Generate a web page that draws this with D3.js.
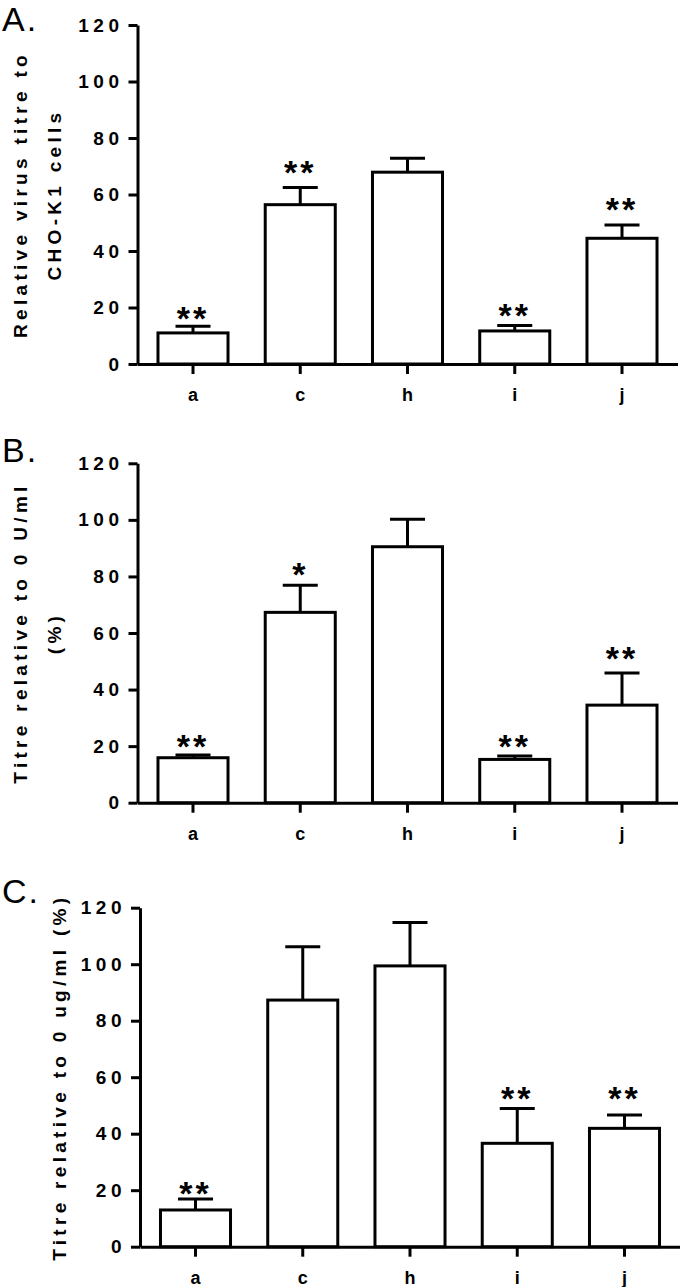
<!DOCTYPE html>
<html>
<head>
<meta charset="utf-8">
<script src="https://cdn.jsdelivr.net/npm/d3@7"></script>
<style>
  html, body { margin: 0; padding: 0; background: #fff; }
  svg { display: block; }
  text { font-family: "Liberation Sans", Arial, sans-serif; fill: #000; }
</style>
</head>
<body>
<svg id="chart" width="680" height="1287"></svg>
<script>
// ---------------- data ----------------
const categories = ["a", "c", "h", "i", "j"];
const yTickValues = [0, 20, 40, 60, 80, 100, 120];

const meanA = [11.0, 56.4, 67.9, 11.7, 44.5];
const semA  = [2.4, 6.1, 4.9, 1.9, 4.7];
const starA = ["**", "**", "", "**", "**"];
const starPosA = [19.1, 70.8, null, 20.0, 57.5];

const meanB = [15.9, 67.3, 90.5, 15.3, 34.5];
const semB  = [1.0, 9.6, 9.7, 1.2, 11.4];
const starB = ["**", "*", "", "**", "**"];
const starPosB = [22.9, 83.5, null, 22.9, 54.0];

const meanC = [13.0, 87.3, 99.4, 36.6, 41.9];
const semC  = [3.9, 18.9, 15.4, 12.3, 4.7];
const starC = ["**", "", "", "**", "**"];
const starPosC = [21.8, null, null, 55.5, 55.5];

const titleA = ["Relative virus titre to", "CHO-K1 cells"];
const titleB = ["Titre relative to 0 U/ml", "(%)"];
const titleC = ["Titre relative to 0 ug/ml (%)"];
const panelLetters = ["A.", "B.", "C."];

// ---------------- layout ----------------
const LS = 4.3;       // letter spacing
const SW = 3;         // stroke width
const panels = [
  { letter: panelLetters[0], letterY: 31,  axisX: 137.5, top: 25,    bottom: 364,    titleX: [27, 61], title: titleA, mean: meanA, sem: semA, star: starA, starPos: starPosA },
  { letter: panelLetters[1], letterY: 462, axisX: 137.5, top: 463.3, bottom: 802.7,  titleX: [27, 61], title: titleB, mean: meanB, sem: semB, star: starB, starPos: starPosB },
  { letter: panelLetters[2], letterY: 903, axisX: 140,   top: 907.7, bottom: 1246.7, titleX: [66],     title: titleC, mean: meanC, sem: semC, star: starC, starPos: starPosC }
];

const svg = d3.select("#chart");

panels.forEach(p => {
  const g = svg.append("g");
  const y = d3.scaleLinear().domain([0, 120]).range([p.bottom, p.top]);
  const x = d3.scaleBand().domain(categories)
    .range([p.axisX, p.axisX + 540])
    .paddingInner(0.347).paddingOuter(0.191);

  // panel letter
  g.append("text")
    .attr("x", 2).attr("y", p.letterY)
    .attr("font-size", 34)
    .attr("letter-spacing", 2)
    .text(p.letter);

  // y axis
  const yAxis = g.append("g")
    .attr("transform", `translate(${p.axisX},0)`)
    .call(d3.axisLeft(y).tickValues(yTickValues).tickSize(9).tickSizeOuter(0).tickPadding(5));
  yAxis.select(".domain").attr("stroke", "#000").attr("stroke-width", SW);
  yAxis.selectAll(".tick line").attr("stroke", "#000").attr("stroke-width", SW);
  yAxis.selectAll(".tick text")
    .attr("font-family", "Liberation Sans, Arial, sans-serif")
    .attr("font-size", 19).attr("font-weight", "bold")
    .attr("letter-spacing", 4.5).attr("fill", "#000");

  // x axis
  const xAxis = g.append("g")
    .attr("transform", `translate(0,${p.bottom})`)
    .call(d3.axisBottom(x).tickSize(10).tickSizeOuter(0));
  xAxis.select(".domain").attr("stroke", "#000").attr("stroke-width", SW);
  xAxis.selectAll(".tick line").attr("stroke", "#000").attr("stroke-width", SW);
  xAxis.selectAll(".tick text")
    .attr("font-family", "Liberation Sans, Arial, sans-serif")
    .attr("font-size", 18).attr("font-weight", "bold")
    .attr("y", 37).attr("dy", 0).attr("fill", "#000");

  const data = categories.map((c, i) => ({ cat: c, mean: p.mean[i], sem: p.sem[i], star: p.star[i], starPos: p.starPos[i] }));

  // bars
  g.selectAll("rect.bar").data(data).join("rect")
    .attr("class", "bar")
    .attr("x", d => x(d.cat))
    .attr("width", x.bandwidth())
    .attr("y", d => y(d.mean))
    .attr("height", d => y(0) - y(d.mean))
    .attr("fill", "#fff").attr("stroke", "#000").attr("stroke-width", SW);

  // error bars
  const cx = d => x(d.cat) + x.bandwidth() / 2;
  g.selectAll("line.err").data(data).join("line")
    .attr("class", "err")
    .attr("x1", cx).attr("x2", cx)
    .attr("y1", d => y(d.mean)).attr("y2", d => y(d.mean + d.sem))
    .attr("stroke", "#000").attr("stroke-width", SW);
  g.selectAll("line.cap").data(data).join("line")
    .attr("class", "cap")
    .attr("x1", d => cx(d) - x.bandwidth() / 4).attr("x2", d => cx(d) + x.bandwidth() / 4)
    .attr("y1", d => y(d.mean + d.sem)).attr("y2", d => y(d.mean + d.sem))
    .attr("stroke", "#000").attr("stroke-width", SW);

  // significance stars
  g.selectAll("text.star").data(data.filter(d => d.star)).join("text")
    .attr("class", "star")
    .attr("x", cx)
    .attr("y", d => y(d.starPos))
    .attr("dy", "0.58em")
    .attr("text-anchor", "middle")
    .attr("font-size", 34).attr("font-weight", "bold")
    .attr("letter-spacing", 3)
    .text(d => d.star);

  // axis title
  const cy = (p.top + p.bottom) / 2;
  p.title.forEach((line, i) => {
    g.append("text")
      .attr("transform", `translate(${p.titleX[i]},${cy}) rotate(-90)`)
      .attr("text-anchor", "middle")
      .attr("font-size", 19).attr("font-weight", "bold")
      .attr("letter-spacing", LS)
      .text(line);
  });
});
</script>
</body>
</html>
